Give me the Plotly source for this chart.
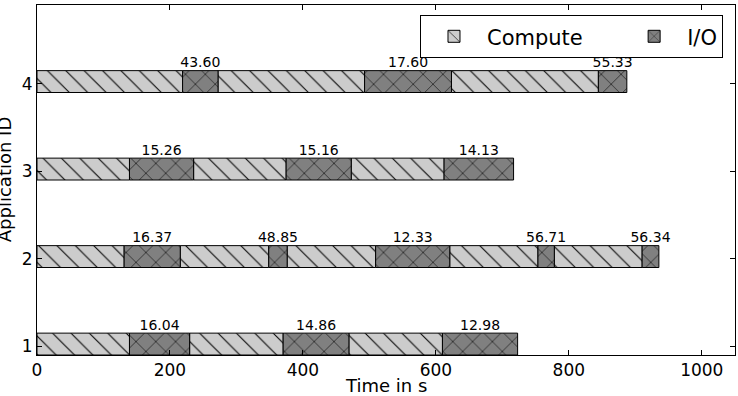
import plotly.graph_objects as go

# Application IDs
apps = [1, 2, 3, 4]

# Segment durations (seconds), alternating compute / io, starting with compute
compute_1 = [139.1, 140.7, 140.7]
io_1 = [90.5, 98.9, 113.1]
labels_1 = ["16.04", "14.86", "12.98"]

compute_2 = [131.1, 133.1, 133.1, 132.7, 132.1]
io_2 = [84.4, 27.7, 111.5, 24.6, 25.2]
labels_2 = ["16.37", "48.85", "12.33", "56.71", "56.34"]

compute_3 = [139.1, 139.2, 139.7]
io_3 = [96.5, 97.9, 104.5]
labels_3 = ["15.26", "15.16", "14.13"]

compute_4 = [219.0, 220.5, 221.0]
io_4 = [53.3, 130.7, 42.8]
labels_4 = ["43.60", "17.60", "55.33"]

computes = [compute_1, compute_2, compute_3, compute_4]
ios = [io_1, io_2, io_3, io_4]
labels = [labels_1, labels_2, labels_3, labels_4]

BAR_H = 0.25
Y_OFF = 0.025  # bars span id-0.1 .. id+0.15

c_x, c_base, c_y = [], [], []
i_x, i_base, i_y = [], [], []
t_x, t_y, t_text = [], [], []
for app, comp, io, lab in zip(apps, computes, ios, labels):
    t = 0.0
    for c, d, l in zip(comp, io, lab):
        c_x.append(c); c_base.append(t); c_y.append(app + Y_OFF)
        t += c
        i_x.append(d); i_base.append(t); i_y.append(app + Y_OFF)
        t_x.append(t + d / 2); t_y.append(app + Y_OFF + BAR_H / 2); t_text.append(l)
        t += d

NB = "\u00a0"

fig = go.Figure()
fig.add_trace(go.Bar(
    name="Compute" + NB * 5, orientation="h", x=c_x, base=c_base, y=c_y, width=BAR_H,
    marker=dict(color="#cccccc", line=dict(color="black", width=1),
                pattern=dict(shape="\\", fillmode="overlay", bgcolor="#cccccc",
                             fgcolor="black", fgopacity=1, size=13, solidity=0.08)),
    hoverinfo="skip",
))
fig.add_trace(go.Bar(
    name="I/O", orientation="h", x=i_x, base=i_base, y=i_y, width=BAR_H,
    marker=dict(color="#808080", line=dict(color="black", width=1),
                pattern=dict(shape="x", fillmode="overlay", bgcolor="#808080",
                             fgcolor="black", fgopacity=1, size=14, solidity=0.08)),
    hoverinfo="skip",
))
fig.add_trace(go.Scatter(
    x=t_x, y=t_y, text=t_text, mode="text", textposition="top center",
    textfont=dict(size=14, color="black"), showlegend=False, hoverinfo="skip",
))

fig.update_layout(
    width=738, height=396,
    margin=dict(l=37, r=3, t=5, b=41),
    paper_bgcolor="white", plot_bgcolor="white",
    font=dict(family="DejaVu Sans", color="black"),
    barmode="overlay",
    showlegend=True,
    legend=dict(orientation="h", x=0.5487, xanchor="left", y=0.971, yanchor="top",
                bordercolor="black", borderwidth=1, font=dict(size=21),
                bgcolor="white", itemwidth=56),
    xaxis=dict(range=[0, 1050], tickvals=[0, 200, 400, 600, 800, 1000],
               ticks="inside", ticklen=5, tickcolor="black", automargin=False,
               showline=True, linecolor="black", linewidth=1, mirror="ticks",
               showgrid=False, zeroline=False, tickfont=dict(size=17)),
    yaxis=dict(range=[0.9, 4.9], tickvals=apps, automargin=False,
               ticks="inside", ticklen=5, tickcolor="black",
               showline=True, linecolor="black", linewidth=1, mirror="ticks",
               showgrid=False, zeroline=False, tickfont=dict(size=17)),
    annotations=[
        dict(text="Application ID", xref="paper", yref="paper",
             x=-0.047, y=0.5, xanchor="center", yanchor="middle",
             textangle=-90, showarrow=False, font=dict(size=18)),
        dict(text="Time in s", xref="paper", yref="paper",
             x=0.5, y=-0.088, xanchor="center", yanchor="middle",
             showarrow=False, font=dict(size=18)),
    ],
)

fig.write_html("out.html")
